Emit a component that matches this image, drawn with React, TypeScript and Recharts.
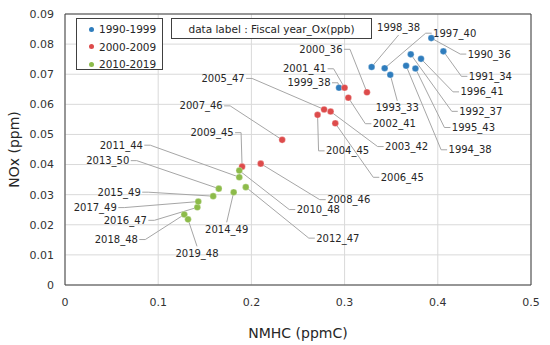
import React from 'react';
import { ScatterChart, Scatter, XAxis, YAxis, CartesianGrid, ReferenceLine } from 'recharts';

// fiscal years and Ox (ppb) used in the point labels
const years90s = [1990, 1991, 1992, 1993, 1994, 1995, 1996, 1997, 1998, 1999];
const ox90s = [36, 34, 37, 33, 38, 43, 41, 40, 38, 38];
const nmhc90s = [0.393, 0.406, 0.371, 0.349, 0.366, 0.376, 0.382, 0.343, 0.329, 0.294];
const nox90s = [0.082, 0.0776, 0.0766, 0.0698, 0.0728, 0.0719, 0.0751, 0.072, 0.0724, 0.0655];

const years00s = [2000, 2001, 2002, 2003, 2004, 2005, 2006, 2007, 2008, 2009];
const ox00s = [36, 41, 41, 42, 45, 47, 45, 46, 46, 45];
const nmhc00s = [0.324, 0.3, 0.304, 0.285, 0.271, 0.278, 0.29, 0.233, 0.21, 0.19];
const nox00s = [0.064, 0.0655, 0.0622, 0.0576, 0.0565, 0.0583, 0.0537, 0.0482, 0.0403, 0.0393];

const years10s = [2010, 2011, 2012, 2013, 2014, 2015, 2016, 2017, 2018, 2019];
const ox10s = [48, 44, 47, 50, 49, 49, 47, 49, 48, 48];
const nmhc10s = [0.187, 0.187, 0.194, 0.165, 0.181, 0.159, 0.142, 0.143, 0.128, 0.132];
const nox10s = [0.038, 0.0358, 0.0325, 0.032, 0.0308, 0.0295, 0.0258, 0.0277, 0.0234, 0.0218];

const xTicks = [0, 0.1, 0.2, 0.3, 0.4, 0.5];
const yTicks = [0, 0.01, 0.02, 0.03, 0.04, 0.05, 0.06, 0.07, 0.08, 0.09];

const COLORS = { p90: '#2f7dbd', p00: '#dd4b4b', p10: '#8dbb4a' };

// label placement (pixel offset of label centre from the point, and which edge the leader hits)
const labelLayout: Record<string, [number, number, string]> = {
  '1990_36': [58, 16, 'left'], '1991_34': [47, 25, 'left'], '1992_37': [70, 57, 'left'],
  '1993_33': [7, 33, 'top'], '1994_38': [64, 84, 'left'], '1995_43': [58, 59, 'left'],
  '1996_41': [61, 33, 'left'], '1997_40': [70, -35, 'left'], '1998_38': [27, -39, 'bottom'],
  '1999_38': [-30, -5, 'right'],
  '2000_36': [-46, -43, 'right'], '2001_41': [-40, -19, 'right'], '2002_41': [46, 26, 'left'],
  '2003_42': [76, 35, 'left'], '2004_45': [30, 36, 'left'], '2005_47': [-101, -31, 'right'],
  '2006_45': [67, 54, 'left'], '2007_46': [-81, -34, 'right'], '2008_46': [88, 36, 'left'],
  '2009_45': [-30, -34, 'right'],
  '2010_48': [79, 39, 'left'], '2011_44': [-118, -32, 'right'], '2012_47': [92, 51, 'left'],
  '2013_50': [-111, -28, 'right'], '2014_49': [-7, 37, 'top'], '2015_49': [-94, -4, 'right'],
  '2016_47': [-72, 13, 'right'], '2017_49': [-103, 6, 'right'], '2018_48': [-68, 25, 'right'],
  '2019_48': [9, 34, 'top'],
};

const build = (years: number[], ox: number[], xs: number[], ys: number[]) =>
  years.map((yr, i) => ({ x: xs[i], y: ys[i], name: `${yr}_${ox[i]}` }));

const data90s = build(years90s, ox90s, nmhc90s, nox90s);
const data00s = build(years00s, ox00s, nmhc00s, nox00s);
const data10s = build(years10s, ox10s, nmhc10s, nox10s);
const allData = [...data90s, ...data00s, ...data10s];

const FONT = '"DejaVu Sans", Verdana, sans-serif';

const LabelShape = (props: any) => {
  const { cx, cy, payload } = props;
  const lay = labelLayout[payload.name];
  if (!lay || cx == null) return null;
  const [dx, dy, side] = lay;
  const lx = cx + dx;
  const ly = cy + dy;
  const hw = 22;
  let pts = '';
  if (side === 'left') {
    pts = `${lx - hw - 1},${ly} ${lx - hw - 7},${ly} ${cx},${cy}`;
  } else if (side === 'right') {
    pts = `${lx + hw + 1},${ly} ${lx + hw + 7},${ly} ${cx},${cy}`;
  } else if (side === 'top') {
    pts = `${lx},${ly - 7} ${cx},${cy}`;
  } else {
    pts = `${lx},${ly + 7} ${cx},${cy}`;
  }
  return (
    <g>
      <polyline points={pts} fill="none" stroke="#a6a6a6" strokeWidth={1} />
      <text x={lx} y={ly} dy="0.35em" textAnchor="middle" fontSize={10} fontFamily={FONT} fill="#262626">
        {payload.name}
      </text>
    </g>
  );
};

const Dot = (color: string) => (props: any) => {
  const { cx, cy } = props;
  if (cx == null) return null;
  return <circle cx={cx} cy={cy} r={3.3} fill={color} stroke="#ffffff" strokeOpacity={0.5} strokeWidth={0.6} />;
};

const legendItems = [
  { label: '1990-1999', color: COLORS.p90 },
  { label: '2000-2009', color: COLORS.p00 },
  { label: '2010-2019', color: COLORS.p10 },
];

export default function App() {
  return (
    <div style={{ position: 'relative', width: 550, height: 345, background: '#fff', fontFamily: FONT }}>
      <style>{`body{margin:0}`}</style>
      <ScatterChart width={550} height={345} margin={{ top: 14, right: 19, bottom: 0, left: 0 }}>
        <CartesianGrid stroke="#d9d9d9" strokeWidth={1} />
        <XAxis
          type="number"
          dataKey="x"
          domain={[0, 0.5]}
          ticks={xTicks}
          height={60}
          tickLine={false}
          tickSize={6}
          tickMargin={7}
          axisLine={{ stroke: '#404040' }}
          tick={{ fontSize: 11, fill: '#333', fontFamily: FONT }}
          label={{ value: 'NMHC (ppmC)', position: 'insideBottom', offset: 7, fontSize: 14, fill: '#262626', fontFamily: FONT }}
        />
        <YAxis
          type="number"
          dataKey="y"
          domain={[0, 0.09]}
          ticks={yTicks}
          width={65}
          tickLine={false}
          tickSize={6}
          tickMargin={5}
          axisLine={{ stroke: '#404040' }}
          tick={{ fontSize: 11, fill: '#333', fontFamily: FONT }}
          label={{ value: 'NOx (ppm)', angle: -90, position: 'insideLeft', offset: 14, fontSize: 14, fill: '#262626', fontFamily: FONT, style: { textAnchor: 'middle' } }}
        />
        <ReferenceLine x={0.5} stroke="#404040" strokeWidth={1} />
        <ReferenceLine y={0.09} stroke="#404040" strokeWidth={1} />
        <Scatter data={allData} shape={LabelShape} isAnimationActive={false} />
        <Scatter data={data90s} shape={Dot(COLORS.p90)} isAnimationActive={false} />
        <Scatter data={data00s} shape={Dot(COLORS.p00)} isAnimationActive={false} />
        <Scatter data={data10s} shape={Dot(COLORS.p10)} isAnimationActive={false} />
      </ScatterChart>

      {/* series legend */}
      <div
        style={{
          position: 'absolute', left: 76, top: 18, width: 87, height: 52, boxSizing: 'border-box',
          border: '1px solid #404040', background: '#fff', fontSize: 10.5, color: '#262626',
        }}
      >
        {legendItems.map((it, i) => (
          <div key={it.label} style={{ position: 'absolute', left: 12, top: 3 + i * 17.5, height: 14, display: 'flex', alignItems: 'center' }}>
            <span style={{ width: 5, height: 5, borderRadius: '50%', background: it.color, marginRight: 5 }} />
            {it.label}
          </div>
        ))}
      </div>

      {/* data label note */}
      <div
        style={{
          position: 'absolute', left: 171, top: 18, width: 201, height: 21, boxSizing: 'border-box',
          border: '1px solid #404040', background: '#fff', fontSize: 10.5, color: '#262626',
          display: 'flex', alignItems: 'center', justifyContent: 'center', whiteSpace: 'nowrap',
        }}
      >
        data label : Fiscal year_Ox(ppb)
      </div>
    </div>
  );
}
